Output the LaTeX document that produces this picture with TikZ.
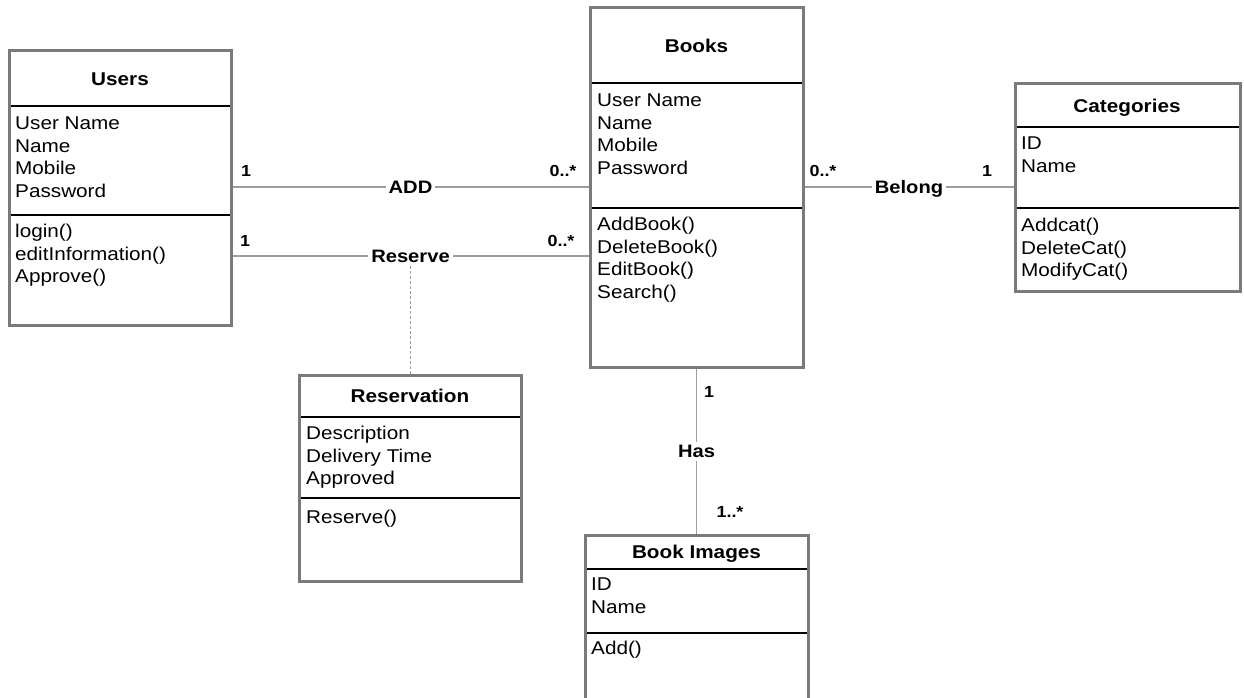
\documentclass[tikz,border=0pt]{standalone}
\usepackage{fontspec}
\setmainfont{Liberation Sans}[FakeStretch=1.12]
\definecolor{boxgray}{HTML}{7A7A7A}
\definecolor{linkgray}{HTML}{9C9C9C}
\begin{document}
\begin{tikzpicture}[x=1pt,y=-1pt,
  classbox/.style={draw=boxgray, line width=3pt, fill=white, anchor=north west,
    inner sep=0pt, outer sep=0pt},
  divider/.style={draw=black, line width=1.1pt, shorten <=1.5pt, shorten >=1.5pt},
  classname/.style={font=\fontsize{18.5}{22.5}\selectfont\bfseries, anchor=base, inner sep=0pt},
  members/.style={font=\fontsize{18.5}{22.5}\selectfont, align=left, anchor=north west, inner sep=0pt},
  assoc/.style={draw=linkgray, line width=1.5pt, shorten <=1.5pt, shorten >=1.5pt},
  assoclabel/.style={font=\fontsize{18}{21}\selectfont\bfseries, fill=white,
    inner xsep=3pt, inner ysep=3pt, text height=13pt, text depth=0pt},
  mult/.style={font=\fontsize{16}{19}\selectfont\bfseries, inner sep=0pt,
    text height=11pt, text depth=0pt},
  notelink/.style={draw=linkgray, line width=1.2pt, dash pattern=on 3pt off 2pt},
]
\useasboundingbox (0,0) rectangle (1244,698);
\clip (0,0) rectangle (1244,698);

% Users
\node[classbox, minimum width=222pt, minimum height=274pt] (users) at (9,51) {};
\draw[divider] (users.west |- 0,106) -- (users.east |- 0,106);
\draw[divider] (users.west |- 0,215) -- (users.east |- 0,215);
\node[classname] (usersname) at (120,85.5) {Users};
\node[members] (usersattr) at (15,113.75) {\strut User Name\\Name\\Mobile\\Password};
\node[members] (usersops) at (15,221.75) {\strut login()\\editInformation()\\Approve()};

% Books
\node[classbox, minimum width=213pt, minimum height=359pt] (books) at (590,8) {};
\draw[divider] (books.west |- 0,83) -- (books.east |- 0,83);
\draw[divider] (books.west |- 0,208) -- (books.east |- 0,208);
\node[classname] (booksname) at (696.5,52.5) {Books};
\node[members] (booksattr) at (597,90.75) {\strut User Name\\Name\\Mobile\\Password};
\node[members] (booksops) at (597,214.75) {\strut AddBook()\\DeleteBook()\\EditBook()\\Search()};

% Categories
\node[classbox, minimum width=225pt, minimum height=207pt] (categories) at (1015,84) {};
\draw[divider] (categories.west |- 0,127) -- (categories.east |- 0,127);
\draw[divider] (categories.west |- 0,208) -- (categories.east |- 0,208);
\node[classname] (catname) at (1127,112.5) {Categories};
\node[members] (catattr) at (1021,133.75) {\strut ID\\Name};
\node[members] (catops) at (1021,215.75) {\strut Addcat()\\DeleteCat()\\ModifyCat()};

% Reservation
\node[classbox, minimum width=222pt, minimum height=206pt] (reservation) at (299,375) {};
\draw[divider] (reservation.west |- 0,417) -- (reservation.east |- 0,417);
\draw[divider] (reservation.west |- 0,498) -- (reservation.east |- 0,498);
\node[classname] (resname) at (410,402.5) {Reservation};
\node[members] (resattr) at (306,423.75) {\strut Description\\Delivery Time\\Approved};
\node[members] (resops) at (306,507.75) {\strut Reserve()};

% Book Images
\node[classbox, minimum width=223pt, minimum height=190pt] (bookimages) at (585,535) {};
\draw[divider] (bookimages.west |- 0,569) -- (bookimages.east |- 0,569);
\draw[divider] (bookimages.west |- 0,633) -- (bookimages.east |- 0,633);
\node[classname] (imgname) at (696.5,558.5) {Book Images};
\node[members] (imgattr) at (591,574.75) {\strut ID\\Name};
\node[members] (imgops) at (591,638.75) {\strut Add()};

% Associations
\draw[assoc] (users.east |- 0,187) -- node[assoclabel] (addlbl) {ADD} (books.west |- 0,187);
\draw[assoc] (users.east |- 0,256) -- node[assoclabel] (rsvlbl) {Reserve} (books.west |- 0,256);
\draw[assoc] (books.east |- 0,187) -- node[assoclabel] (belonglbl) {Belong} (categories.west |- 0,187);
\draw[assoc] (books.south) -- node[assoclabel] (haslbl) {Has} (bookimages.north);

% Association class link
\draw[notelink] (rsvlbl.south) -- (rsvlbl.south |- reservation.north);

% Multiplicities
\node[mult] (m1) at (246,171) {1};
\node[mult] (m2) at (563,171) {0..*};
\node[mult] (m3) at (245,241) {1};
\node[mult] (m4) at (561,241) {0..*};
\node[mult] (m5) at (823,171) {0..*};
\node[mult] (m6) at (987,171) {1};
\node[mult] (m7) at (709,392) {1};
\node[mult] (m8) at (730,512) {1..*};
\end{tikzpicture}
\end{document}
